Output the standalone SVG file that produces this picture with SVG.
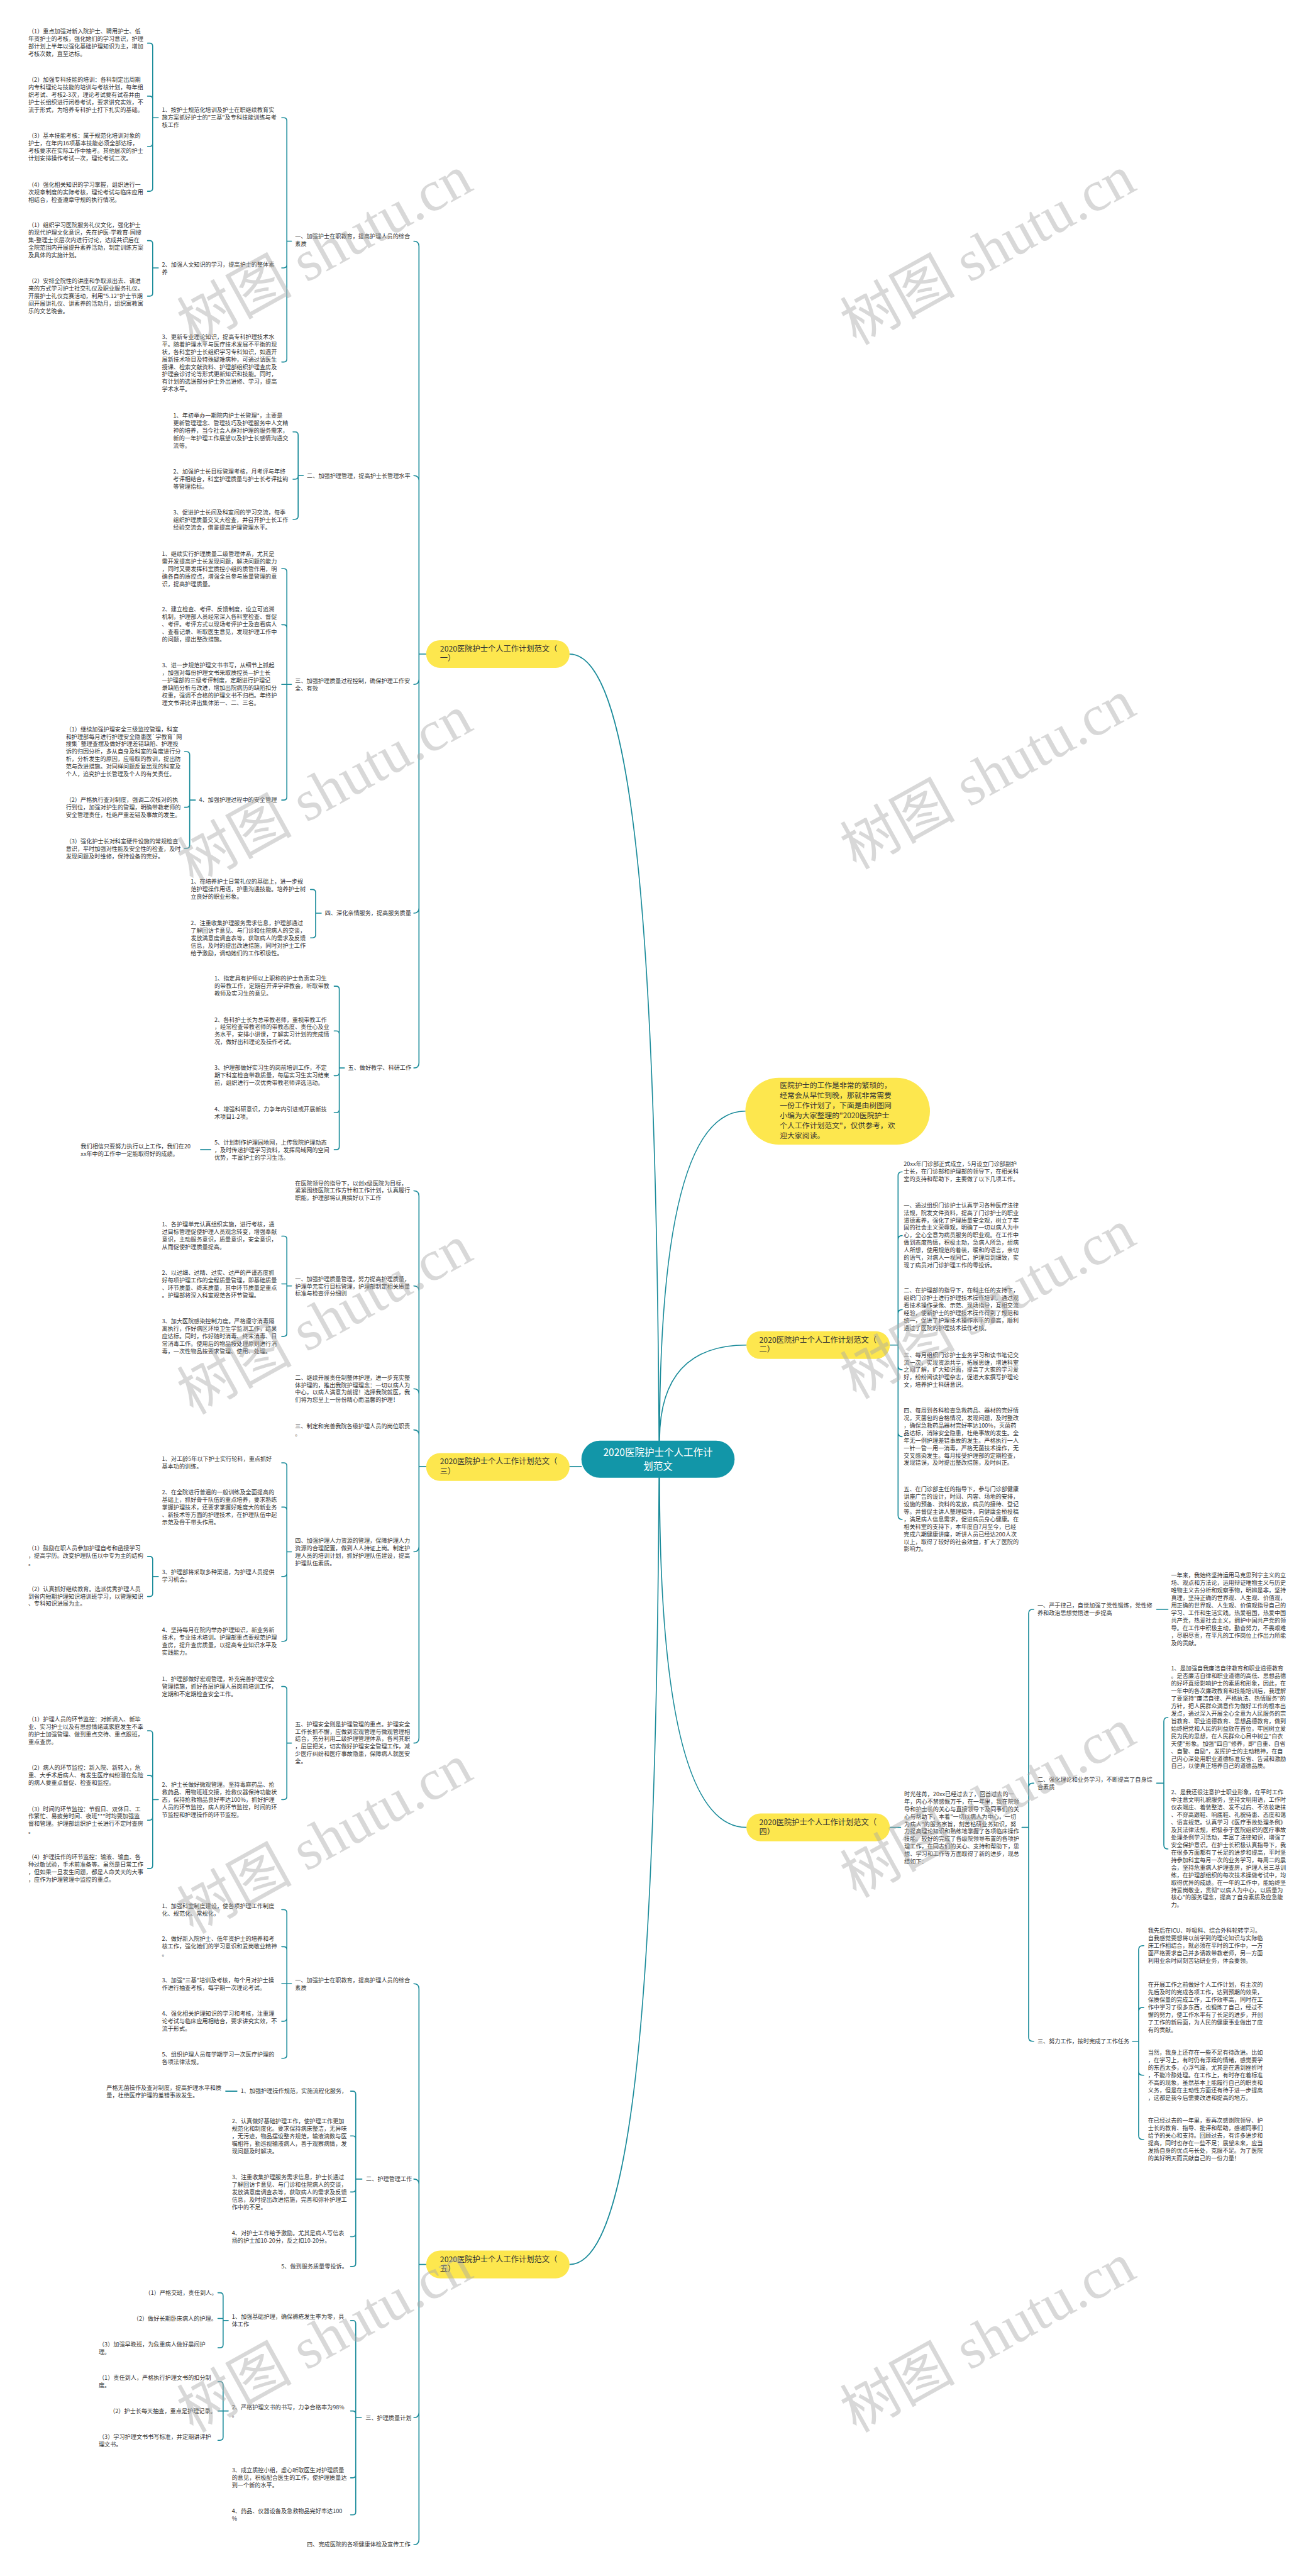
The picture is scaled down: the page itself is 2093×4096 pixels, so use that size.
<svg xmlns="http://www.w3.org/2000/svg" width="2093" height="4096" viewBox="0 0 2093 4096">
<style>
.t{font-family:"Noto Sans CJK SC","Noto Sans",sans-serif;font-size:11.2px;fill:#333}
.b{font-family:"Noto Sans CJK SC","Noto Sans",sans-serif;font-size:15px;fill:#333}
.i{font-family:"Noto Sans CJK SC","Noto Sans",sans-serif;font-size:14.5px;fill:#333}
.c{font-family:"Noto Sans CJK SC","Noto Sans",sans-serif;font-size:19px;fill:#fff;text-anchor:middle}
.ln{fill:none;stroke:#1a8b9a;stroke-width:2;stroke-linecap:round}
.yel{fill:#fde74e}
.wm{font-family:"Liberation Serif","Noto Sans CJK SC",serif;font-size:112px;fill:#a8a8a8;fill-opacity:0.45;text-anchor:middle}
</style>
<rect width="2093" height="4096" fill="#fff"/>
<g transform="scale(0.81758)">
<g id="connectors">
<path class="ln" d="M1282,2802 C1277,1900 1240,1272 1108,1272 M1282,2874 C1277,3780 1240,4404 1108,4404 M1131,2852 L1108,2852 M1283,2802 Q1283,2161 1450,2161 M1283,2802 Q1283,2616 1452,2616 M1283,2874 Q1283,3554 1452,3554"/>
<path class="ln" d="M815,1272 L815,479 Q815,469 805,469 M815,1272 L815,935 Q815,925 805,925 M815,1272 L815,1321 Q815,1331 805,1331 M815,1272 L815,1766 Q815,1776 805,1776 M815,1272 L815,2067 Q815,2077 805,2077 M815,1272 L829,1272"/>
<path class="ln" d="M297,229 L297,90 Q297,84 291,84 L287,84 M297,229 L297,193 Q297,187 291,187 L287,187 M297,229 L297,279 Q297,285 291,285 L287,285 M297,229 L297,366 Q297,372 291,372 L287,372 M297,229 L308,229"/>
<path class="ln" d="M297,521 L297,474 Q297,468 291,468 L287,468 M297,521 L297,570 Q297,576 291,576 L287,576 M297,521 L308,521"/>
<path class="ln" d="M558,469 L558,235 Q558,229 552,229 L548,229 M558,469 L558,515 Q558,521 552,521 L548,521 M558,469 L558,698 Q558,704 552,704 L548,704 M558,469 L567,469"/>
<path class="ln" d="M580,925 L580,846 Q580,840 574,840 L570,840 M580,925 L580,926 Q580,932 574,932 L570,932 M580,925 L580,1004 Q580,1010 574,1010 L570,1010 M580,925 L590,925"/>
<path class="ln" d="M558,1331 L558,1112 Q558,1106 552,1106 L548,1106 M558,1331 L558,1221 Q558,1215 552,1215 L548,1215 M558,1331 L548,1331 M558,1331 L558,1550 Q558,1556 552,1556 L548,1556 M558,1331 L567,1331"/>
<path class="ln" d="M369,1556 L369,1468 Q369,1462 363,1462 L359,1462 M369,1556 L369,1564 Q369,1570 363,1570 L359,1570 M369,1556 L369,1644 Q369,1650 363,1650 L359,1650 M369,1556 L380,1556"/>
<path class="ln" d="M614,1776 L614,1736 Q614,1730 608,1730 L604,1730 M614,1776 L614,1818 Q614,1824 608,1824 L604,1824 M614,1776 L625,1776"/>
<path class="ln" d="M660,2077 L660,1924 Q660,1918 654,1918 L650,1918 M660,2077 L660,2011 Q660,2005 654,2005 L650,2005 M660,2077 L660,2086 Q660,2092 654,2092 L650,2092 M660,2077 L660,2158 Q660,2164 654,2164 L650,2164 M660,2077 L660,2230 Q660,2236 654,2236 L650,2236 M660,2077 L670,2077 M390,2236 L410,2236"/>
<path class="ln" d="M815,2852 L815,2326 Q815,2316 805,2316 M815,2852 L815,2511 Q815,2501 805,2501 M815,2852 L815,2711 Q815,2701 805,2701 M815,2852 L815,2791 Q815,2781 805,2781 M815,2852 L815,3008 Q815,3018 805,3018 M815,2852 L815,3380 Q815,3390 805,3390 M815,2852 L829,2852"/>
<path class="ln" d="M558,2501 L558,2410 Q558,2404 552,2404 L548,2404 M558,2501 L558,2497 L548,2497 M558,2501 L558,2593 Q558,2599 552,2599 L548,2599 M558,2501 L567,2501"/>
<path class="ln" d="M558,3018 L558,2851 Q558,2845 552,2845 L548,2845 M558,3018 L558,2937 Q558,2931 552,2931 L548,2931 M558,3018 L558,3060 Q558,3066 552,3066 L548,3066 M558,3018 L558,3186 Q558,3192 552,3192 L548,3192 M558,3018 L567,3018"/>
<path class="ln" d="M297,3066 L297,3033 Q297,3027 291,3027 L287,3027 M297,3066 L297,3099 Q297,3105 291,3105 L287,3105 M297,3066 L308,3066"/>
<path class="ln" d="M558,3390 L558,3286 Q558,3280 552,3280 L548,3280 M558,3390 L558,3494 Q558,3500 552,3500 L548,3500 M558,3390 L567,3390"/>
<path class="ln" d="M297,3500 L297,3372 Q297,3366 291,3366 L287,3366 M297,3500 L297,3459 Q297,3453 291,3453 L287,3453 M297,3500 L297,3534 Q297,3540 291,3540 L287,3540 M297,3500 L297,3628 Q297,3634 291,3634 L287,3634 M297,3500 L308,3500"/>
<path class="ln" d="M815,4404 L815,3868 Q815,3858 805,3858 M815,4404 L815,4248 Q815,4238 805,4238 M815,4404 L815,4692 Q815,4702 805,4702 M815,4404 L815,4939 Q815,4949 805,4949 M815,4404 L829,4404"/>
<path class="ln" d="M558,3858 L558,3720 Q558,3714 552,3714 L548,3714 M558,3858 L558,3792 Q558,3786 552,3786 L548,3786 M558,3858 L548,3858 M558,3858 L558,3925 Q558,3931 552,3931 L548,3931 M558,3858 L558,3997 Q558,4003 552,4003 L548,4003 M558,3858 L567,3858"/>
<path class="ln" d="M692,4238 L692,4073 Q692,4067 686,4067 L682,4067 M692,4238 L692,4160 Q692,4154 686,4154 L682,4154 M692,4238 L692,4257 Q692,4263 686,4263 L682,4263 M692,4238 L692,4344 Q692,4350 686,4350 L682,4350 M692,4238 L692,4402 Q692,4408 686,4408 L682,4408 M692,4238 L704,4238 M439,4067 L461,4067"/>
<path class="ln" d="M692,4702 L692,4519 Q692,4513 686,4513 L682,4513 M692,4702 L692,4695 Q692,4689 686,4689 L682,4689 M692,4702 L692,4813 Q692,4819 686,4819 L682,4819 M692,4702 L692,4885 Q692,4891 686,4891 L682,4891 M692,4702 L703,4702"/>
<path class="ln" d="M434,4513 L434,4465 Q434,4459 428,4459 L424,4459 M434,4513 L434,4509 L424,4509 M434,4513 L434,4560 Q434,4566 428,4566 L424,4566 M434,4513 L444,4513"/>
<path class="ln" d="M434,4689 L434,4638 Q434,4632 428,4632 L424,4632 M434,4689 L424,4689 M434,4689 L434,4740 Q434,4746 428,4746 L424,4746 M434,4689 L444,4689"/>
<path class="ln" d="M1747,2616 L1747,2287 Q1747,2279 1755,2279 M1747,2616 L1747,2411 Q1747,2403 1755,2403 M1747,2616 L1747,2555 Q1747,2547 1755,2547 M1747,2616 L1747,2656 Q1747,2664 1755,2664 M1747,2616 L1747,2786 Q1747,2794 1755,2794 M1747,2616 L1747,2947 Q1747,2955 1755,2955 M1731,2616 L1747,2616"/>
<path class="ln" d="M1731,3554 L1752,3554 M2001,3554 L2001,3138 Q2001,3130 2009,3130 L2011,3130 M2001,3554 L2001,3476 Q2001,3468 2009,3468 L2011,3468 M2001,3554 L2001,3962 Q2001,3970 2009,3970 L2011,3970 M1988,3554 L2001,3554 M2250,3130 L2272,3130"/>
<path class="ln" d="M2264,3468 L2264,3348 Q2264,3340 2272,3340 M2264,3468 L2264,3588 Q2264,3596 2272,3596 M2250,3468 L2264,3468"/>
<path class="ln" d="M2215,3970 L2215,3792 Q2215,3784 2223,3784 L2225,3784 M2215,3970 L2215,3912 Q2215,3904 2223,3904 L2225,3904 M2215,3970 L2215,4028 Q2215,4036 2223,4036 L2225,4036 M2215,3970 L2215,4153 Q2215,4161 2223,4161 L2225,4161 M2203,3970 L2215,3970"/>
</g>

<g id="center">
<rect x="1131" y="2802" width="298" height="72" rx="36" fill="#1296a8"/>
<text class="c" x="1280" y="2832"><tspan x="1280">2020医院护士个人工作计</tspan><tspan x="1280" dy="26">划范文</tspan></text>
</g>
<g id="intro">
<rect class="yel" x="1450" y="2096" width="359" height="130" rx="65"/>
<text class="i" x="1517" y="2116"><tspan x="1517">医院护士的工作是非常的繁琐的，</tspan><tspan x="1517" dy="19.6">经常会从早忙到晚，那就非常需要</tspan><tspan x="1517" dy="19.6">一份工作计划了，下面是由树图网</tspan><tspan x="1517" dy="19.6">小编为大家整理的"2020医院护士</tspan><tspan x="1517" dy="19.6">个人工作计划范文"，仅供参考，欢</tspan><tspan x="1517" dy="19.6">迎大家阅读。</tspan></text>
</g>
<g id="b1">
<rect class="yel" x="829" y="1245" width="279" height="54" rx="27"/>
<text class="b" x="856" y="1267"><tspan x="856">2020医院护士个人工作计划范文（</tspan><tspan x="856" dy="19">一）</tspan></text>
</g>
<g id="b2">
<rect class="yel" x="1452" y="2589" width="279" height="54" rx="27"/>
<text class="b" x="1477" y="2611"><tspan x="1477">2020医院护士个人工作计划范文（</tspan><tspan x="1477" dy="19">二）</tspan></text>
</g>
<g id="b3">
<rect class="yel" x="829" y="2826" width="279" height="54" rx="27"/>
<text class="b" x="856" y="2848"><tspan x="856">2020医院护士个人工作计划范文（</tspan><tspan x="856" dy="19">三）</tspan></text>
</g>
<g id="b4">
<rect class="yel" x="1452" y="3527" width="279" height="54" rx="27"/>
<text class="b" x="1477" y="3549"><tspan x="1477">2020医院护士个人工作计划范文（</tspan><tspan x="1477" dy="19">四）</tspan></text>
</g>
<g id="b5">
<rect class="yel" x="829" y="4377" width="279" height="54" rx="27"/>
<text class="b" x="856" y="4399"><tspan x="856">2020医院护士个人工作计划范文（</tspan><tspan x="856" dy="19">五）</tspan></text>
</g>

<g id="b1-items">
<g id="t1"><text class="t" y="65"><tspan x="55">（1）重点加强对新入院护士、聘用护士、低</tspan><tspan x="55" dy="14.6">年资护士的考核，强化她们的学习意识，护理</tspan><tspan x="55" dy="14.6">部计划上半年以强化基础护理知识为主，增加</tspan><tspan x="55" dy="14.6">考核次数，直至达标。</tspan></text></g>
<g id="t2"><text class="t" y="159"><tspan x="55">（2）加强专科技能的培训：各科制定出周期</tspan><tspan x="55" dy="14.6">内专科理论与技能的培训与考核计划，每年组</tspan><tspan x="55" dy="14.6">织考试、考核2-3次，理论考试要有试卷并由</tspan><tspan x="55" dy="14.6">护士长组织进行闭卷考试，要求讲究实效，不</tspan><tspan x="55" dy="14.6">流于形式，为培养专科护士打下扎实的基础。</tspan></text></g>
<g id="t3"><text class="t" y="268"><tspan x="55">（3）基本技能考核：属于规范化培训对象的</tspan><tspan x="55" dy="14.6">护士，在年内16项基本技能必须全部达标，</tspan><tspan x="55" dy="14.6">考核要求在实际工作中抽考。其他层次的护士</tspan><tspan x="55" dy="14.6">计划安排操作考试一次，理论考试二次。</tspan></text></g>
<g id="t4"><text class="t" y="363"><tspan x="55">（4）强化相关知识的学习掌握，组织进行一</tspan><tspan x="55" dy="14.6">次规章制度的实际考核，理论考试与临床应用</tspan><tspan x="55" dy="14.6">相结合，检查遵章守规的执行情况。</tspan></text></g>
<g id="t5"><text class="t" y="218"><tspan x="315">1、按护士规范化培训及护士在职继续教育实</tspan><tspan x="315" dy="14.6">施方案抓好护士的"三基"及专科技能训练与考</tspan><tspan x="315" dy="14.6">核工作</tspan></text></g>
<g id="t6"><text class="t" y="442"><tspan x="55">（1）组织学习医院服务礼仪文化，强化护士</tspan><tspan x="55" dy="14.6">的现代护理文化意识，先在护医-学教育-网搜</tspan><tspan x="55" dy="14.6">集-整理士长层次内进行讨论，达成共识后在</tspan><tspan x="55" dy="14.6">全院范围内开展提升素养活动，制定训练方案</tspan><tspan x="55" dy="14.6">及具体的实施计划。</tspan></text></g>
<g id="t7"><text class="t" y="551"><tspan x="55">（2）安排全院性的讲座和争取派出去、请进</tspan><tspan x="55" dy="14.6">来的方式学习护士社交礼仪及职业服务礼仪。</tspan><tspan x="55" dy="14.6">开展护士礼仪竞赛活动，利用"5.12"护士节期</tspan><tspan x="55" dy="14.6">间开展讲礼仪、讲素养的活动月，组织寓教寓</tspan><tspan x="55" dy="14.6">乐的文艺晚会。</tspan></text></g>
<g id="t8"><text class="t" y="519"><tspan x="315">2、加强人文知识的学习，提高护士的整体素</tspan><tspan x="315" dy="14.6">养</tspan></text></g>
<g id="t9"><text class="t" y="659"><tspan x="315">3、更新专业理论知识，提高专科护理技术水</tspan><tspan x="315" dy="14.6">平。随着护理水平与医疗技术发展不平衡的现</tspan><tspan x="315" dy="14.6">状，各科室护士长组织学习专科知识，如遇开</tspan><tspan x="315" dy="14.6">展新技术项目及特殊疑难病种，可通过请医生</tspan><tspan x="315" dy="14.6">授课、检索文献资料、护理部组织护理查房及</tspan><tspan x="315" dy="14.6">护理会诊讨论等形式更新知识和技能。同时，</tspan><tspan x="315" dy="14.6">有计划的选送部分护士外出进修、学习，提高</tspan><tspan x="315" dy="14.6">学术水平。</tspan></text></g>
<g id="t10"><text class="t" y="464"><tspan x="574">一、加强护士在职教育，提高护理人员的综合</tspan><tspan x="574" dy="14.6">素质</tspan></text></g>
<g id="t11"><text class="t" y="812"><tspan x="337">1、年初举办一期院内护士长管理*，主要是</tspan><tspan x="337" dy="14.6">更新管理理念、管理技巧及护理服务中人文精</tspan><tspan x="337" dy="14.6">神的培养，当今社会人群对护理的服务需求，</tspan><tspan x="337" dy="14.6">新的一年护理工作展望以及护士长感情沟通交</tspan><tspan x="337" dy="14.6">流等。</tspan></text></g>
<g id="t12"><text class="t" y="921"><tspan x="337">2、加强护士长目标管理考核，月考评与年终</tspan><tspan x="337" dy="14.6">考评相结合，科室护理质量与护士长考评挂钩</tspan><tspan x="337" dy="14.6">等管理指标。</tspan></text></g>
<g id="t13"><text class="t" y="1001"><tspan x="337">3、促进护士长间及科室间的学习交流，每季</tspan><tspan x="337" dy="14.6">组织护理质量交叉大检查，并召开护士长工作</tspan><tspan x="337" dy="14.6">经验交流会，借鉴提高护理管理水平。</tspan></text></g>
<g id="t14"><text class="t" x="597" y="929">二、加强护理管理，提高护士长管理水平</text></g>
<g id="t15"><text class="t" y="1081"><tspan x="315">1、继续实行护理质量二级管理体系，尤其是</tspan><tspan x="315" dy="14.6">需开发提高护士长发现问题，解决问题的能力</tspan><tspan x="315" dy="14.6">，同时又要发挥科室质控小组的质管作用，明</tspan><tspan x="315" dy="14.6">确各自的质控点，增强全员参与质量管理的意</tspan><tspan x="315" dy="14.6">识，提高护理质量。</tspan></text></g>
<g id="t16"><text class="t" y="1189"><tspan x="315">2、建立检查、考评、反馈制度，设立可追溯</tspan><tspan x="315" dy="14.6">机制，护理部人员经常深入各科室检查、督促</tspan><tspan x="315" dy="14.6">、考评。考评方式以现场考评护士及查看病人</tspan><tspan x="315" dy="14.6">、查看记录、听取医生意见，发现护理工作中</tspan><tspan x="315" dy="14.6">的问题，提出整改措施。</tspan></text></g>
<g id="t17"><text class="t" y="1298"><tspan x="315">3、进一步规范护理文书书写，从细节上抓起</tspan><tspan x="315" dy="14.6">，加强对每份护理文书采取质控员—护士长</tspan><tspan x="315" dy="14.6">—护理部的三级考评制度，定期进行护理记</tspan><tspan x="315" dy="14.6">录缺陷分析与改进，增加出院病历的缺陷扣分</tspan><tspan x="315" dy="14.6">权重，强调不合格的护理文书不归档。年终护</tspan><tspan x="315" dy="14.6">理文书评比评出集体第一、二、三名。</tspan></text></g>
<g id="t18"><text class="t" x="387" y="1560">4、加强护理过程中的安全管理</text></g>
<g id="t19"><text class="t" y="1422"><tspan x="128">（1）继续加强护理安全三级监控管理，科室</tspan><tspan x="128" dy="14.6">和护理部每月进行护理安全隐患医`学教育`网</tspan><tspan x="128" dy="14.6">搜集`整理查摆及做好护理差错缺陷、护理投</tspan><tspan x="128" dy="14.6">诉的归因分析，多从自身及科室的角度进行分</tspan><tspan x="128" dy="14.6">析，分析发生的原因，应吸取的教训，提出防</tspan><tspan x="128" dy="14.6">范与改进措施。对同样问题反复出现的科室及</tspan><tspan x="128" dy="14.6">个人，追究护士长管理及个人的有关责任。</tspan></text></g>
<g id="t20"><text class="t" y="1560"><tspan x="128">（2）严格执行查对制度，强调二次核对的执</tspan><tspan x="128" dy="14.6">行到位，加强对护生的管理，明确带教老师的</tspan><tspan x="128" dy="14.6">安全管理责任，杜绝严重差错及事故的发生。</tspan></text></g>
<g id="t21"><text class="t" y="1640"><tspan x="128">（3）强化护士长对科室硬件设施的常规检查</tspan><tspan x="128" dy="14.6">意识，平时加强对性能及安全性的检查，及时</tspan><tspan x="128" dy="14.6">发现问题及时维修，保持设备的完好。</tspan></text></g>
<g id="t22"><text class="t" y="1328"><tspan x="574">三、加强护理质量过程控制，确保护理工作安</tspan><tspan x="574" dy="14.6">全、有效</tspan></text></g>
<g id="t23"><text class="t" y="1719"><tspan x="371">1、在培养护士日常礼仪的基础上，进一步规</tspan><tspan x="371" dy="14.6">范护理操作用语，护患沟通技能。培养护士树</tspan><tspan x="371" dy="14.6">立良好的职业形象。</tspan></text></g>
<g id="t24"><text class="t" y="1799"><tspan x="371">2、注重收集护理服务需求信息，护理部通过</tspan><tspan x="371" dy="14.6">了解回访卡意见、与门诊和住院病人的交谈，</tspan><tspan x="371" dy="14.6">发放满意度调查表等，获取病人的需求及反馈</tspan><tspan x="371" dy="14.6">信息，及时的提出改进措施，同时对护士工作</tspan><tspan x="371" dy="14.6">给予激励，调动她们的工作积极性。</tspan></text></g>
<g id="t25"><text class="t" x="632" y="1780">四、深化亲情服务，提高服务质量</text></g>
<g id="t26"><text class="t" y="1907"><tspan x="417">1、指定具有护师以上职称的护士负责实习生</tspan><tspan x="417" dy="14.6">的带教工作，定期召开评学评教会，听取带教</tspan><tspan x="417" dy="14.6">教师及实习生的意见。</tspan></text></g>
<g id="t27"><text class="t" y="1987"><tspan x="417">2、各科护士长为总带教老师，重视带教工作</tspan><tspan x="417" dy="14.6">，经常检查带教老师的带教态度、责任心及业</tspan><tspan x="417" dy="14.6">务水平，安排小讲课，了解实习计划的完成情</tspan><tspan x="417" dy="14.6">况，做好出科理论及操作考试。</tspan></text></g>
<g id="t28"><text class="t" y="2081"><tspan x="417">3、护理部做好实习生的岗前培训工作，不定</tspan><tspan x="417" dy="14.6">期下科室检查带教质量，每届实习生实习结束</tspan><tspan x="417" dy="14.6">前，组织进行一次优秀带教老师评选活动。</tspan></text></g>
<g id="t29"><text class="t" y="2161"><tspan x="417">4、增强科研意识，力争年内引进或开展新技</tspan><tspan x="417" dy="14.6">术项目1-2项。</tspan></text></g>
<g id="t30"><text class="t" y="2226"><tspan x="417">5、计划制作护理园地网，上传我院护理动态</tspan><tspan x="417" dy="14.6">，及时传递护理学习资料，发挥局域网的空间</tspan><tspan x="417" dy="14.6">优势，丰富护士的学习生活。</tspan></text></g>
<g id="t31"><text class="t" y="2233"><tspan x="157">我们相信只要努力执行以上工作，我们在20</tspan><tspan x="157" dy="14.6">xx年中的工作中一定能取得好的成绩。</tspan></text></g>
<g id="t32"><text class="t" x="677" y="2081">五、做好教学、科研工作</text></g>
</g>

<g id="b3-items">
<g id="u1"><text class="t" y="2305"><tspan x="574">在医院领导的指导下，以创x级医院为目标，</tspan><tspan x="574" dy="14.6">紧紧围绕医院工作方针和工作计划，认真履行</tspan><tspan x="574" dy="14.6">职能，护理部将认真搞好以下工作</tspan></text></g>
<g id="u2"><text class="t" y="2491"><tspan x="574">一、加强护理质量管理，努力提高护理质量，</tspan><tspan x="574" dy="14.6">护理单元实行目标管理，护理部制定相关质量</tspan><tspan x="574" dy="14.6">标准与检查评分细则</tspan></text></g>
<g id="u3"><text class="t" y="2385"><tspan x="315">1、各护理单元认真组织实施，进行考核，通</tspan><tspan x="315" dy="14.6">过目标管理促使护理人员观念转变，增强奉献</tspan><tspan x="315" dy="14.6">意识，主动服务意识，质量意识，安全意识，</tspan><tspan x="315" dy="14.6">从而促使护理质量提高。</tspan></text></g>
<g id="u4"><text class="t" y="2479"><tspan x="315">2、以过细、过精、过实、过严的严谨态度抓</tspan><tspan x="315" dy="14.6">好每项护理工作的全程质量管理，即基础质量</tspan><tspan x="315" dy="14.6">、环节质量、终末质量，其中环节质量是重点</tspan><tspan x="315" dy="14.6">。护理部将深入科室规范各环节管理。</tspan></text></g>
<g id="u5"><text class="t" y="2574"><tspan x="315">3、加大医院感染控制力度。严格遵守消毒隔</tspan><tspan x="315" dy="14.6">离执行，作好病区环境卫生学监测工作，结果</tspan><tspan x="315" dy="14.6">应达标。同时，作好随时消毒、终末消毒、日</tspan><tspan x="315" dy="14.6">常消毒工作。使用后的物品按处理原则进行消</tspan><tspan x="315" dy="14.6">毒，一次性物品按要求管理、使用、处理。</tspan></text></g>
<g id="u6"><text class="t" y="2683"><tspan x="574">二、继续开展责任制整体护理，进一步充实整</tspan><tspan x="574" dy="14.6">体护理的，推出我院护理理念：一切以病人为</tspan><tspan x="574" dy="14.6">中心，以病人满意为前提！选择我院就医，我</tspan><tspan x="574" dy="14.6">们将为您呈上一份份精心而温馨的护理！</tspan></text></g>
<g id="u7"><text class="t" y="2778"><tspan x="574">三、制定和完善我院各级护理人员的岗位职责</tspan><tspan x="574" dy="14.6">。</tspan></text></g>
<g id="u8"><text class="t" y="3000"><tspan x="574">四、加强护理人力资源的管理，保障护理人力</tspan><tspan x="574" dy="14.6">资源的合理配置，做到人人持证上岗。制定护</tspan><tspan x="574" dy="14.6">理人员的培训计划，抓好护理队伍建设，提高</tspan><tspan x="574" dy="14.6">护理队伍素质。</tspan></text></g>
<g id="u9"><text class="t" y="2841"><tspan x="315">1、对工龄5年以下护士实行轮科，重点抓好</tspan><tspan x="315" dy="14.6">基本功的训练。</tspan></text></g>
<g id="u10"><text class="t" y="2906"><tspan x="315">2、在全院进行普遍的一般训练及全面提高的</tspan><tspan x="315" dy="14.6">基础上，抓好骨干队伍的重点培养，要求熟练</tspan><tspan x="315" dy="14.6">掌握护理技术，还要求掌握好难度大的新业务</tspan><tspan x="315" dy="14.6">、新技术等方面的护理技术，在护理队伍中起</tspan><tspan x="315" dy="14.6">示范及骨干带头作用。</tspan></text></g>
<g id="u11"><text class="t" y="3062"><tspan x="315">3、护理部将采取多种渠道，为护理人员提供</tspan><tspan x="315" dy="14.6">学习机会。</tspan></text></g>
<g id="u12"><text class="t" y="3015"><tspan x="55">（1）鼓励在职人员参加护理自考和函授学习</tspan><tspan x="55" dy="14.6">，提高学历。改变护理队伍以中专为主的结构</tspan><tspan x="55" dy="14.6">。</tspan></text></g>
<g id="u13"><text class="t" y="3094"><tspan x="55">（2）认真抓好继续教育。选派优秀护理人员</tspan><tspan x="55" dy="14.6">到省内短期护理知识培训班学习，以管理知识</tspan><tspan x="55" dy="14.6">、专科知识进展为主。</tspan></text></g>
<g id="u14"><text class="t" y="3174"><tspan x="315">4、坚持每月在院内举办护理知识，新业务新</tspan><tspan x="315" dy="14.6">技术，专业技术培训。护理部重点要规范护理</tspan><tspan x="315" dy="14.6">查房，提升查房质量，以提高专业知识水平及</tspan><tspan x="315" dy="14.6">实践能力。</tspan></text></g>
<g id="u15"><text class="t" y="3357"><tspan x="574">五、护理安全则是护理管理的重点。护理安全</tspan><tspan x="574" dy="14.6">工作长抓不懈，应做到宏观管理与微观管理相</tspan><tspan x="574" dy="14.6">结合，充分利用二级护理管理体系，各司其职</tspan><tspan x="574" dy="14.6">，层层把关，切实做好护理安全管理工作，减</tspan><tspan x="574" dy="14.6">少医疗纠纷和医疗事故隐患，保障病人就医安</tspan><tspan x="574" dy="14.6">全。</tspan></text></g>
<g id="u16"><text class="t" y="3269"><tspan x="315">1、护理部做好宏观管理，补充完善护理安全</tspan><tspan x="315" dy="14.6">管理措施，抓好各层护理人员岗前培训工作，</tspan><tspan x="315" dy="14.6">定期和不定期检查安全工作。</tspan></text></g>
<g id="u17"><text class="t" y="3475"><tspan x="315">2、护士长做好微观管理。坚持毒麻药品、抢</tspan><tspan x="315" dy="14.6">救药品、用物班班交接，抢救仪器保持功能状</tspan><tspan x="315" dy="14.6">态，保持抢救物品良好率达100%，抓好护理</tspan><tspan x="315" dy="14.6">人员的环节监控，病人的环节监控，时间的环</tspan><tspan x="315" dy="14.6">节监控和护理操作的环节监控。</tspan></text></g>
<g id="u18"><text class="t" y="3348"><tspan x="55">（1）护理人员的环节监控：对新调入、新毕</tspan><tspan x="55" dy="14.6">业、实习护士以及有思想情绪或家庭发生不幸</tspan><tspan x="55" dy="14.6">的护士加强管理、做到重点交待、重点跟班，</tspan><tspan x="55" dy="14.6">重点查房。</tspan></text></g>
<g id="u19"><text class="t" y="3442"><tspan x="55">（2）病人的环节监控：新入院、新转入，危</tspan><tspan x="55" dy="14.6">重、大手术后病人、有发生医疗纠纷潜在危险</tspan><tspan x="55" dy="14.6">的病人要重点督促、检查和监控。</tspan></text></g>
<g id="u20"><text class="t" y="3522"><tspan x="55">（3）时间的环节监控：节假日、双休日、工</tspan><tspan x="55" dy="14.6">作繁忙、易疲劳时间、夜班***时均要加强监</tspan><tspan x="55" dy="14.6">督和管理。护理部组织护士长进行不定时查房</tspan><tspan x="55" dy="14.6">。</tspan></text></g>
<g id="u21"><text class="t" y="3616"><tspan x="55">（4）护理操作的环节监控：输液、输血、各</tspan><tspan x="55" dy="14.6">种过敏试验，手术前准备等。虽然是日常工作</tspan><tspan x="55" dy="14.6">，但如果一旦发生问题，都是人命关天的大事</tspan><tspan x="55" dy="14.6">，应作为护理管理中监控的重点。</tspan></text></g>
</g>

<g id="b5-items">
<g id="v1"><text class="t" y="3855"><tspan x="574">一、加强护士在职教育，提高护理人员的综合</tspan><tspan x="574" dy="14.6">素质</tspan></text></g>
<g id="v2"><text class="t" y="3711"><tspan x="315">1、加强科室制度建设，使各项护理工作制度</tspan><tspan x="315" dy="14.6">化、规范化、常规化，</tspan></text></g>
<g id="v3"><text class="t" y="3775"><tspan x="315">2、做好新入院护士、低年资护士的培养和考</tspan><tspan x="315" dy="14.6">核工作，强化她们的学习意识和爱岗敬业精神</tspan><tspan x="315" dy="14.6">。</tspan></text></g>
<g id="v4"><text class="t" y="3855"><tspan x="315">3、加强"三基"培训及考核，每个月对护士操</tspan><tspan x="315" dy="14.6">作进行抽查考核，每学期一次理论考试。</tspan></text></g>
<g id="v5"><text class="t" y="3920"><tspan x="315">4、强化相关护理知识的学习和考核，注重理</tspan><tspan x="315" dy="14.6">论考试与临床应用相结合，要求讲究实效，不</tspan><tspan x="315" dy="14.6">流于形式。</tspan></text></g>
<g id="v6"><text class="t" y="4000"><tspan x="315">5、组织护理人员每学期学习一次医疗护理的</tspan><tspan x="315" dy="14.6">各项法律法规。</tspan></text></g>
<g id="v7"><text class="t" x="712" y="4242">二、护理管理工作</text></g>
<g id="v8"><text class="t" x="468" y="4071">1、加强护理操作规范，实施流程化服务，</text></g>
<g id="v9"><text class="t" y="4064"><tspan x="207">严格无菌操作及查对制度，提高护理水平和质</tspan><tspan x="207" dy="14.6">量，杜绝医疗护理的差错事故发生。</tspan></text></g>
<g id="v10"><text class="t" y="4129"><tspan x="451">2、认真做好基础护理工作，使护理工作更加</tspan><tspan x="451" dy="14.6">规范化和制度化。要求保持病床整洁，无异味</tspan><tspan x="451" dy="14.6">，无污迹，物品摆设整齐规范，输液滴数与医</tspan><tspan x="451" dy="14.6">嘱相符，勤巡视输液病人，善于观察病情，发</tspan><tspan x="451" dy="14.6">现问题及时解决。</tspan></text></g>
<g id="v11"><text class="t" y="4238"><tspan x="451">3、注重收集护理服务需求信息，护士长通过</tspan><tspan x="451" dy="14.6">了解回访卡意见、与门诊和住院病人的交谈，</tspan><tspan x="451" dy="14.6">发放满意度调查表等，获取病人的需求及反馈</tspan><tspan x="451" dy="14.6">信息，及时提出改进措施，完善和弥补护理工</tspan><tspan x="451" dy="14.6">作中的不足。</tspan></text></g>
<g id="v12"><text class="t" y="4347"><tspan x="451">4、对护士工作给予激励。尤其是病人写信表</tspan><tspan x="451" dy="14.6">扬的护士加10-20分，反之扣10-20分。</tspan></text></g>
<g id="v13"><text class="t" x="547" y="4412">5、做到服务质量零投诉。</text></g>
<g id="v14"><text class="t" x="711" y="4706">三、护理质量计划</text></g>
<g id="v15"><text class="t" y="4510"><tspan x="451">1、加强基础护理，确保褥疮发生率为零，具</tspan><tspan x="451" dy="14.6">体工作</tspan></text></g>
<g id="v16"><text class="t" x="282" y="4463">（1）严格交班，责任到人。</text></g>
<g id="v17"><text class="t" x="259" y="4513">（2）做好长期卧床病人的护理。</text></g>
<g id="v18"><text class="t" y="4563"><tspan x="192">（3）加强早晚班，为危重病人做好晨间护</tspan><tspan x="192" dy="14.6">理。</tspan></text></g>
<g id="v19"><text class="t" y="4686"><tspan x="451">2、严格护理文书的书写，力争合格率为98%</tspan><tspan x="451" dy="14.6">。</tspan></text></g>
<g id="v20"><text class="t" y="4628"><tspan x="192">（1）责任到人，严格执行护理文书的扣分制</tspan><tspan x="192" dy="14.6">度。</tspan></text></g>
<g id="v21"><text class="t" x="213" y="4693">（2）护士长每天抽查，重点是护理记录。</text></g>
<g id="v22"><text class="t" y="4743"><tspan x="192">（3）学习护理文书书写标准，并定期讲评护</tspan><tspan x="192" dy="14.6">理文书。</tspan></text></g>
<g id="v23"><text class="t" y="4808"><tspan x="451">3、成立质控小组，虚心听取医生对护理质量</tspan><tspan x="451" dy="14.6">的意见，积极配合医生的工作，使护理质量达</tspan><tspan x="451" dy="14.6">到一个新的水平。</tspan></text></g>
<g id="v24"><text class="t" y="4888"><tspan x="451">4、药品、仪器设备及急救物品完好率达100</tspan><tspan x="451" dy="14.6">%</tspan></text></g>
<g id="v25"><text class="t" x="597" y="4953">四、完成医院的各项健康体检及宣传工作</text></g>
</g>

<g id="b2-items">
<g id="w1"><text class="t" y="2268"><tspan x="1758">20xx年门诊部正式成立，5月设立门诊部副护</tspan><tspan x="1758" dy="14.6">士长，在门诊部和护理部的领导下，在相关科</tspan><tspan x="1758" dy="14.6">室的支持和帮助下，主要做了以下几项工作。</tspan></text></g>
<g id="w2"><text class="t" y="2348"><tspan x="1758">一、通过组织门诊护士认真学习各种医疗法律</tspan><tspan x="1758" dy="14.6">法规，院发文件资料，提高了门诊护士的职业</tspan><tspan x="1758" dy="14.6">道德素养，强化了护理质量安全观，树立了牢</tspan><tspan x="1758" dy="14.6">固的社会主义荣辱观，明确了一切以病人为中</tspan><tspan x="1758" dy="14.6">心，全心全意为病员服务的职业观。在工作中</tspan><tspan x="1758" dy="14.6">做到态度热情，积极主动，急病人所急，想病</tspan><tspan x="1758" dy="14.6">人所想，使用规范的着装，暖和的语言，亲切</tspan><tspan x="1758" dy="14.6">的语气，对病人一视同仁，护理周到细致，实</tspan><tspan x="1758" dy="14.6">现了病员对门诊护理工作的零投诉。</tspan></text></g>
<g id="w3"><text class="t" y="2514"><tspan x="1758">二、在护理部的指导下，在科主任的支持下，</tspan><tspan x="1758" dy="14.6">组织门诊护士进行护理技术操作培训。通过观</tspan><tspan x="1758" dy="14.6">看技术操作录像、示范、现场指导，互相交流</tspan><tspan x="1758" dy="14.6">经验，使新护士的护理技术操作得到了规范和</tspan><tspan x="1758" dy="14.6">统一，促进了护理技术操作水平的提高，顺利</tspan><tspan x="1758" dy="14.6">通过了医院的护理技术操作考核。</tspan></text></g>
<g id="w4"><text class="t" y="2639"><tspan x="1758">三、每月组织门诊护士业务学习和读书笔记交</tspan><tspan x="1758" dy="14.6">流一次，实现资源共享，拓展思维，增进科室</tspan><tspan x="1758" dy="14.6">之间了解，扩大知识面，提高了大家的学习爱</tspan><tspan x="1758" dy="14.6">好，纷纷阅读护理杂志，促进大家撰写护理论</tspan><tspan x="1758" dy="14.6">文，培养护士科研意识。</tspan></text></g>
<g id="w5"><text class="t" y="2747"><tspan x="1758">四、每周到各科检查急救药品、器材的完好情</tspan><tspan x="1758" dy="14.6">况，灭菌包的合格情况，发现问题，及时整改</tspan><tspan x="1758" dy="14.6">，确保急救药品器材完好率达100%，灭菌药</tspan><tspan x="1758" dy="14.6">品达标，消除安全隐患，杜绝事故的发生。全</tspan><tspan x="1758" dy="14.6">年无一例护理差错事故的发生。严格执行一人</tspan><tspan x="1758" dy="14.6">一针一管一用一消毒，严格无菌技术操作，无</tspan><tspan x="1758" dy="14.6">交叉感染发生。每月接受护理部的定期检查，</tspan><tspan x="1758" dy="14.6">发现错误，及时提出整改措施，及时纠正。</tspan></text></g>
<g id="w6"><text class="t" y="2900"><tspan x="1758">五、在门诊部主任的指导下，参与门诊部健康</tspan><tspan x="1758" dy="14.6">讲座广告的设计，时间、内容、场地的安排，</tspan><tspan x="1758" dy="14.6">设施的预备、资料的发放，病员的接待、登记</tspan><tspan x="1758" dy="14.6">等。并督促主讲人整理稿件，向健康金桥投稿</tspan><tspan x="1758" dy="14.6">，满足病人信息需求，促进病员身心健康。在</tspan><tspan x="1758" dy="14.6">相关科室的支持下，本年度自7月至今，已经</tspan><tspan x="1758" dy="14.6">完成六期健康讲座，听讲人员已经达200人次</tspan><tspan x="1758" dy="14.6">以上，取得了较好的社会效益，扩大了医院的</tspan><tspan x="1758" dy="14.6">影响力。</tspan></text></g>
</g>

<g id="b4-items">
<g id="x1"><text class="t" y="3493"><tspan x="1759">时光荏苒，20xx已经过去了，回首过去的一</tspan><tspan x="1759" dy="14.6">年，内心不禁感慨万千，在一年里，我在院领</tspan><tspan x="1759" dy="14.6">导和护士长的关心与直接领导下及同事们的关</tspan><tspan x="1759" dy="14.6">心与帮助下，本着"一切以病人为中心，一切</tspan><tspan x="1759" dy="14.6">为病人"的服务宗旨，刻苦钻研业务知识，努</tspan><tspan x="1759" dy="14.6">力提高理论知识和熟练地掌握了各项临床操作</tspan><tspan x="1759" dy="14.6">技能。较好的完成了各级院领导布置的各项护</tspan><tspan x="1759" dy="14.6">理工作，在同志们的关心、支持和帮助下，思</tspan><tspan x="1759" dy="14.6">想、学习和工作等方面取得了新的进步，现总</tspan><tspan x="1759" dy="14.6">结如下：</tspan></text></g>
<g id="x2"><text class="t" y="3126"><tspan x="2018">一、严于律己，自觉加强了党性锻炼，党性修</tspan><tspan x="2018" dy="14.6">养和政治思想觉悟进一步提高</tspan></text></g>
<g id="x3"><text class="t" y="3068"><tspan x="2278">一年来，我始终坚持运用马克思列宁主义的立</tspan><tspan x="2278" dy="14.6">场、观点和方法论，运用辩证唯物主义与历史</tspan><tspan x="2278" dy="14.6">唯物主义去分析和观察事物，明辨是非，坚持</tspan><tspan x="2278" dy="14.6">真理，坚持正确的世界观、人生观、价值观，</tspan><tspan x="2278" dy="14.6">用正确的世界观、人生观、价值观指导自己的</tspan><tspan x="2278" dy="14.6">学习、工作和生活实践。热爱祖国，热爱中国</tspan><tspan x="2278" dy="14.6">共产党，热爱社会主义，拥护中国共产党的领</tspan><tspan x="2278" dy="14.6">导。在工作中积极主动，勤奋努力，不畏艰难</tspan><tspan x="2278" dy="14.6">，尽职尽责，在平凡的工作岗位上作出力所能</tspan><tspan x="2278" dy="14.6">及的贡献。</tspan></text></g>
<g id="x4"><text class="t" y="3465"><tspan x="2018">二、强化理论和业务学习，不断提高了自身综</tspan><tspan x="2018" dy="14.6">合素质</tspan></text></g>
<g id="x5"><text class="t" y="3249"><tspan x="2278">1、是加强自我廉洁自律教育和职业道德教育</tspan><tspan x="2278" dy="14.6">。是否廉洁自律和职业道德的高低、思想品德</tspan><tspan x="2278" dy="14.6">的好坏直接影响护士的素质和形象，因此，在</tspan><tspan x="2278" dy="14.6">一年中的各次廉政教育和技能培训后，我理解</tspan><tspan x="2278" dy="14.6">了要坚持"廉洁自律、严格执法、热情服务"的</tspan><tspan x="2278" dy="14.6">方针，把人民群众满意作为做好工作的根本出</tspan><tspan x="2278" dy="14.6">发点，通过深入开展全心全意为人民服务的宗</tspan><tspan x="2278" dy="14.6">旨教育、职业道德教育、思想品德教育，做到</tspan><tspan x="2278" dy="14.6">始终把党和人民的利益放在首位，牢固树立爱</tspan><tspan x="2278" dy="14.6">民为民的思想，在人民群众心目中树立"白衣</tspan><tspan x="2278" dy="14.6">天使"形象。加强"四自"修养，即"自重、自省</tspan><tspan x="2278" dy="14.6">、自警、自励"，发挥护士的主动精神，在自</tspan><tspan x="2278" dy="14.6">己内心深处用职业道德标准反省、告诫和激励</tspan><tspan x="2278" dy="14.6">自己，以便真正培养自己的道德品质。</tspan></text></g>
<g id="x6"><text class="t" y="3490"><tspan x="2278">2、是我还很注意护士职业形象，在平时工作</tspan><tspan x="2278" dy="14.6">中注意文明礼貌服务，坚持文明用语，工作时</tspan><tspan x="2278" dy="14.6">仪表端庄、着装整洁、发不过肩、不浓妆艳抹</tspan><tspan x="2278" dy="14.6">、不穿高跟鞋、响底鞋、礼貌待患、态度和蔼</tspan><tspan x="2278" dy="14.6">、语言规范。认真学习《医疗事故处理条例》</tspan><tspan x="2278" dy="14.6">及其法律法规，积极参于医院组织的医疗事故</tspan><tspan x="2278" dy="14.6">处理条例学习活动，丰富了法律知识，增强了</tspan><tspan x="2278" dy="14.6">安全保护意识。在护士长积极认真指导下，我</tspan><tspan x="2278" dy="14.6">在很多方面都有了长足的进步和提高，平时坚</tspan><tspan x="2278" dy="14.6">持参加科室每月一次的业务学习，每周二的晨</tspan><tspan x="2278" dy="14.6">会，坚持危重病人护理查房，护理人员三基训</tspan><tspan x="2278" dy="14.6">练，在护理部组织的每次技术操做考试中，均</tspan><tspan x="2278" dy="14.6">取得优异的成绩。在一年的工作中，能始终坚</tspan><tspan x="2278" dy="14.6">持爱岗敬业，贯彻"以病人为中心，以质量为</tspan><tspan x="2278" dy="14.6">核心"的服务理念，提高了自身素质及应急能</tspan><tspan x="2278" dy="14.6">力。</tspan></text></g>
<g id="x7"><text class="t" x="2018" y="3974">三、努力工作，按时完成了工作任务</text></g>
<g id="x8"><text class="t" y="3759"><tspan x="2233">我先后在ICU、呼吸科、综合外科轮转学习。</tspan><tspan x="2233" dy="14.6">自我感觉要想将以前学到的理论知识与实际临</tspan><tspan x="2233" dy="14.6">床工作相结合，就必须在平时的工作中，一方</tspan><tspan x="2233" dy="14.6">面严格要求自己并多请教带教老师，另一方面</tspan><tspan x="2233" dy="14.6">利用业余时间刻苦钻研业务，体会要领。</tspan></text></g>
<g id="x9"><text class="t" y="3864"><tspan x="2233">在开展工作之前做好个人工作计划，有主次的</tspan><tspan x="2233" dy="14.6">先后及时的完成各项工作，达到预期的效果，</tspan><tspan x="2233" dy="14.6">保质保量的完成工作，工作效率高，同时在工</tspan><tspan x="2233" dy="14.6">作中学习了很多东西，也锻炼了自己，经过不</tspan><tspan x="2233" dy="14.6">懈的努力，使工作水平有了长足的进步，开创</tspan><tspan x="2233" dy="14.6">了工作的新局面，为人民的健康事业做出了应</tspan><tspan x="2233" dy="14.6">有的贡献。</tspan></text></g>
<g id="x10"><text class="t" y="3996"><tspan x="2233">当然，我身上还存在一些不足有待改进。比如</tspan><tspan x="2233" dy="14.6">，在学习上，有时仍有浮躁的情绪，感觉要学</tspan><tspan x="2233" dy="14.6">的东西太多，心浮气躁，尤其是在遇到挫折时</tspan><tspan x="2233" dy="14.6">，不能冷静处理。在工作上，有时存在着标准</tspan><tspan x="2233" dy="14.6">不高的现象，虽然基本上能履行自己的职责和</tspan><tspan x="2233" dy="14.6">义务，但是在主动性方面还有待于进一步提高</tspan><tspan x="2233" dy="14.6">，这都是我今后需要改进和提高的地方。</tspan></text></g>
<g id="x11"><text class="t" y="4128"><tspan x="2233">在已经过去的一年里，要再次感谢院领导、护</tspan><tspan x="2233" dy="14.6">士长的教育、指导、批评和帮助，感谢同事们</tspan><tspan x="2233" dy="14.6">给予的关心和支持。回顾过去，有许多进步和</tspan><tspan x="2233" dy="14.6">提高，同时也存在一些不足；展望未来，应当</tspan><tspan x="2233" dy="14.6">发扬自身的优点与长处，克服不足。为了医院</tspan><tspan x="2233" dy="14.6">的美好明天而贡献自己的一份力量！</tspan></text></g>
</g>

<g id="watermarks">
<text class="wm" transform="translate(650,520) rotate(-29)">树图 shutu.cn</text>
<text class="wm" transform="translate(650,1570) rotate(-29)">树图 shutu.cn</text>
<text class="wm" transform="translate(650,2600) rotate(-29)">树图 shutu.cn</text>
<text class="wm" transform="translate(650,3610) rotate(-29)">树图 shutu.cn</text>
<text class="wm" transform="translate(650,4580) rotate(-29)">树图 shutu.cn</text>
<text class="wm" transform="translate(1940,520) rotate(-29)">树图 shutu.cn</text>
<text class="wm" transform="translate(1940,1540) rotate(-29)">树图 shutu.cn</text>
<text class="wm" transform="translate(1940,2570) rotate(-29)">树图 shutu.cn</text>
<text class="wm" transform="translate(1940,3540) rotate(-29)">树图 shutu.cn</text>
<text class="wm" transform="translate(1940,4580) rotate(-29)">树图 shutu.cn</text>
</g>
</g>
</svg>
